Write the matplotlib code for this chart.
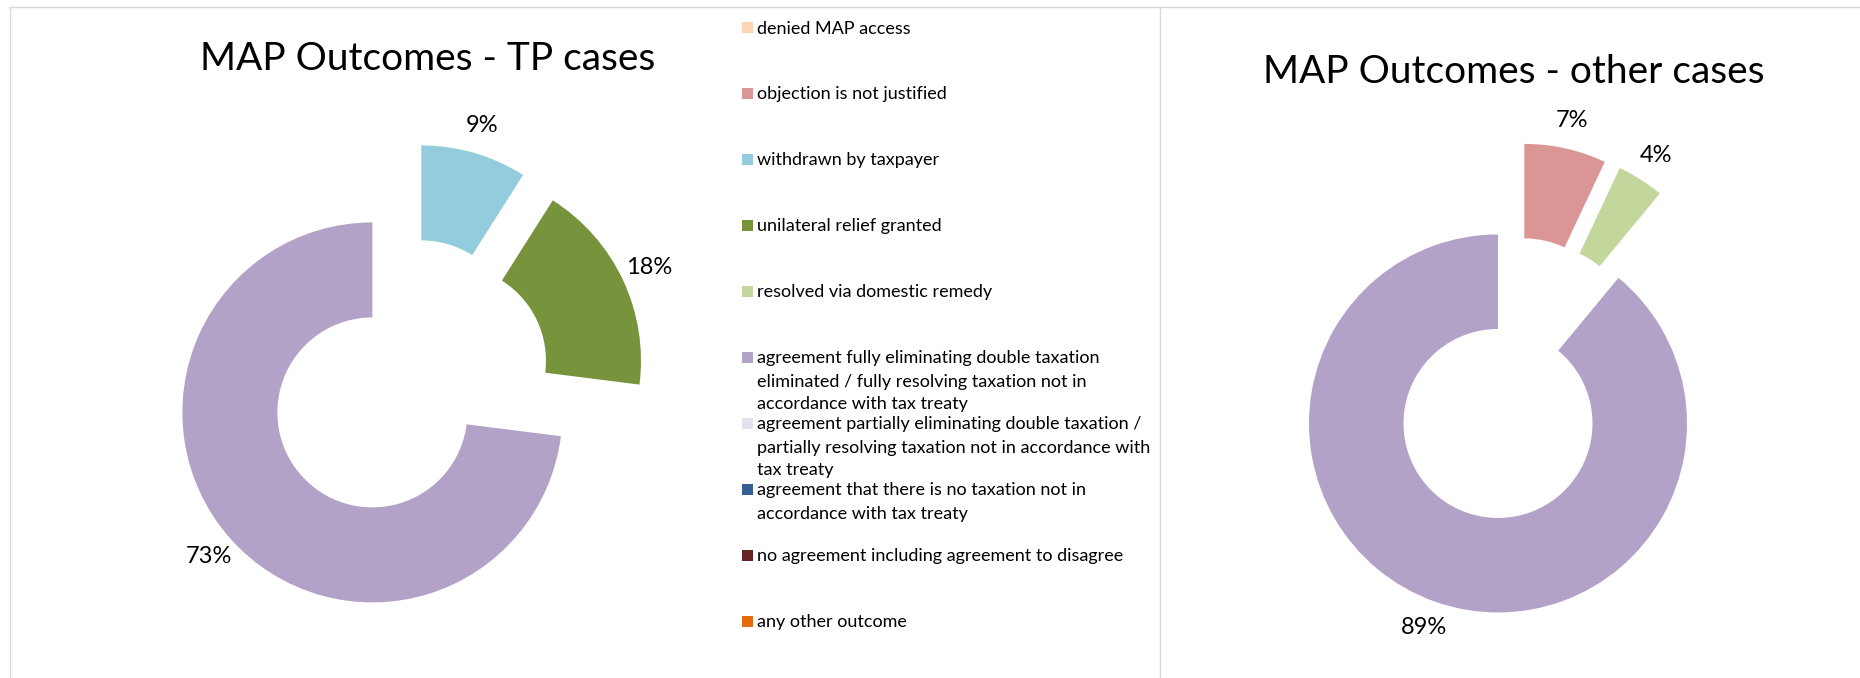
import matplotlib
matplotlib.use("Agg")
import matplotlib.pyplot as plt
from matplotlib.patches import Rectangle
from matplotlib.lines import Line2D

# legend categories (same order in both charts)
categories = [
    "denied MAP access",
    "objection is not justified",
    "withdrawn by taxpayer",
    "unilateral relief granted",
    "resolved via domestic remedy",
    "agreement fully eliminating double taxation\neliminated / fully resolving taxation not in\naccordance with tax treaty",
    "agreement partially eliminating double taxation /\npartially resolving taxation not in accordance with\ntax treaty",
    "agreement that there is no taxation not in\naccordance with tax treaty",
    "no agreement including agreement to disagree",
    "any other outcome",
]
colors = ["#FCD5B5", "#D99694", "#93CDDD", "#77933C", "#C3D69B",
          "#B3A2C7", "#E6E0EC", "#376092", "#632523", "#E46C0A"]

tp_values = [0, 0, 9, 18, 0, 73, 0, 0, 0, 0]
other_values = [0, 7, 0, 0, 4, 89, 0, 0, 0, 0]

FONT = "Lato"
W, H = 1860, 678
fig = plt.figure(figsize=(W / 100, H / 100), dpi=100)


def pct_label(p):
    return f"{p:.0f}%" if p > 0.5 else ""


def donut(cx, cy, r, values):
    half = 1.5 * r
    ax = fig.add_axes([(cx - half) / W, (H - cy - half) / H, 2 * half / W, 2 * half / H])
    ax.pie(values, colors=colors, startangle=90, counterclock=False,
           explode=[0.25 if v > 0 else 0 for v in values],
           wedgeprops=dict(width=0.5, linewidth=0),
           autopct=pct_label, pctdistance=1.15,
           textprops=dict(fontsize=17, family=FONT, color="#000000"))
    ax.set_xlim(-1.5, 1.5)
    ax.set_ylim(-1.5, 1.5)
    ax.set_aspect("equal")
    ax.axis("off")
    return ax


donut(408, 381, 190, tp_values)
donut(1514, 379, 189, other_values)

fig.text(428 / W, 1 - 70 / H, "MAP Outcomes - TP cases", ha="center", va="baseline",
         fontsize=28, family=FONT)
fig.text(1514 / W, 1 - 83 / H, "MAP Outcomes - other cases", ha="center", va="baseline",
         fontsize=28, family=FONT)

# legend, Excel style: fixed slots, long labels wrap downward
for i, (cat, col) in enumerate(zip(categories, colors)):
    y = 27 + i * 66
    fig.add_artist(Rectangle((742 / W, 1 - (y + 5.5) / H), 11 / W, 11 / H,
                             transform=fig.transFigure, color=col, lw=0))
    for k, line in enumerate(cat.split("\n")):
        fig.text(757 / W, 1 - (y + k * 23) / H, line, ha="left", va="center_baseline",
                 fontsize=13, family=FONT, color="#000000")

# chart area borders
grey = "#D9D9D9"
fig.add_artist(Line2D([9 / W, 1], [1 - 7 / H, 1 - 7 / H], transform=fig.transFigure, color=grey, lw=1))
fig.add_artist(Line2D([9.5 / W, 9.5 / W], [0, 1 - 7 / H], transform=fig.transFigure, color=grey, lw=1))
fig.add_artist(Line2D([1160 / W, 1160 / W], [0, 1 - 7 / H], transform=fig.transFigure, color=grey, lw=1))

fig.savefig("out.png", dpi=100)
